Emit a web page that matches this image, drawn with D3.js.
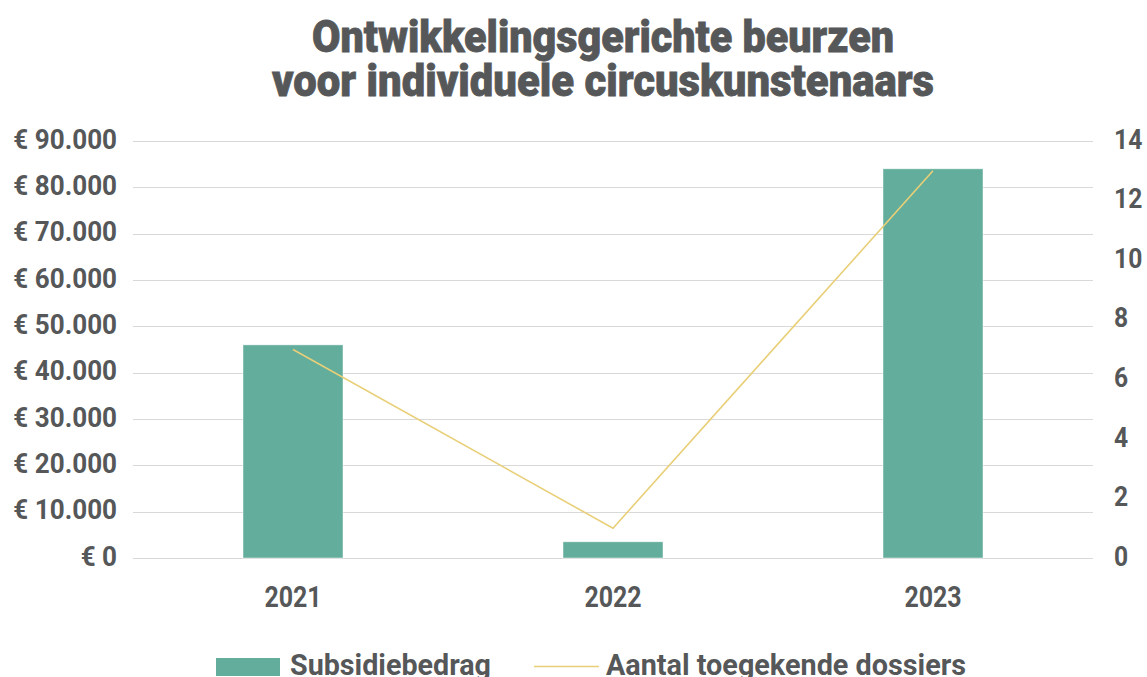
<!DOCTYPE html>
<html><head><meta charset="utf-8">
<script src="https://cdn.jsdelivr.net/npm/d3@7"></script>
<style>
body{margin:0;background:#fff;}
svg{display:block;font-family:Roboto,"Noto Sans",sans-serif;}
</style></head>
<body><svg id="c" width="1147" height="677"></svg>
<script>
const years = ["2021","2022","2023"];
const amounts = [46000, 3500, 84000];
const dossiers = [7, 1, 13];
const leftTicks = [0,10000,20000,30000,40000,50000,60000,70000,80000,90000];
const rightTicks = [0,2,4,6,8,10,12,14];
const titleLines = ["Ontwikkelingsgerichte beurzen","voor individuele circuskunstenaars"];
const legendLabels = ["Subsidiebedrag","Aantal toegekende dossiers"];

const textColor = "#555759", barColor = "#62AD9B", lineColor = "#E8CF78", gridColor = "#D9D9D9";
const svg = d3.select("#c");
const L = 133, R = 1093, T = 141, B = 558;

const x = d3.scaleBand().domain(years).range([L,R]).paddingInner(0.6875).paddingOuter(0.34375);
const yL = d3.scaleLinear().domain([0,90000]).range([B,T]);
const yR = d3.scaleLinear().domain([0,14]).range([B,T]);

function condense(sel, f){ sel.each(function(){ const w=this.getComputedTextLength(); d3.select(this).attr("textLength", w*f).attr("lengthAdjust","spacingAndGlyphs"); }); }

// title
const tw = [582, 662], tb = [52, 96];
titleLines.forEach((t,i)=>{
  svg.append("text").attr("x",603).attr("y",tb[i]).attr("text-anchor","middle")
    .attr("font-size",45).attr("font-weight",900).attr("fill",textColor)
    .attr("stroke",textColor).attr("stroke-width",0.8)
    .attr("textLength",tw[i]).attr("lengthAdjust","spacingAndGlyphs").text(t);
});

// grid
svg.append("g").selectAll("line").data(leftTicks).join("line")
  .attr("x1",L).attr("x2",R).attr("y1",d=>Math.round(yL(d))+0.5).attr("y2",d=>Math.round(yL(d))+0.5)
  .attr("stroke",gridColor).attr("stroke-width",1);

// left axis
const fmt = d => "€ " + d3.format(",")(d).replace(/,/g,".");
const lAx = d3.axisLeft(yL).tickValues(leftTicks).tickFormat(fmt).tickSize(0).tickPadding(16);
const gl = svg.append("g").attr("transform",`translate(${L},0)`).call(lAx);
gl.select(".domain").remove();
gl.selectAll("text").attr("font-size",28).attr("font-weight",700).attr("fill",textColor).attr("font-family","Roboto").attr("dy","0.26em");
condense(gl.selectAll("text"), 0.93);

// right axis
const rAx = d3.axisRight(yR).tickValues(rightTicks).tickFormat(d3.format("d")).tickSize(0).tickPadding(21);
const gr = svg.append("g").attr("transform",`translate(${R},0)`).call(rAx);
gr.select(".domain").remove();
gr.selectAll("text").attr("font-size",28).attr("font-weight",700).attr("fill",textColor).attr("font-family","Roboto").attr("dy","0.26em");
condense(gr.selectAll("text"), 0.88);

// bars
svg.append("g").selectAll("rect").data(years).join("rect")
  .attr("x",d=>x(d)).attr("width",x.bandwidth())
  .attr("y",(d,i)=>yL(amounts[i])).attr("height",(d,i)=>B-yL(amounts[i]))
  .attr("fill",barColor).attr("stroke","#fff").attr("stroke-opacity",0.6).attr("stroke-width",0.8);

// line
const line = d3.line().x((d,i)=>x(years[i])+x.bandwidth()/2).y(d=>yR(d));
svg.append("path").datum(dossiers).attr("d",line).attr("fill","none").attr("stroke",lineColor).attr("stroke-width",1.6);

// x axis labels
const xAx = d3.axisBottom(x).tickSize(0).tickPadding(0);
const gx = svg.append("g").attr("transform",`translate(0,${B})`).call(xAx);
gx.select(".domain").remove();
gx.selectAll("text").attr("font-size",29).attr("font-weight",700).attr("fill",textColor).attr("font-family","Roboto").attr("dy",null).attr("y",49);
condense(gx.selectAll("text"), 0.86);

// legend
const lg = svg.append("g");
lg.append("rect").attr("x",216).attr("y",658).attr("width",64).attr("height",18).attr("fill",barColor);
lg.append("text").attr("x",290).attr("y",675).attr("font-size",29).attr("font-weight",700).attr("fill",textColor).text(legendLabels[0])
  .attr("textLength",201).attr("lengthAdjust","spacingAndGlyphs");
lg.append("line").attr("x1",534).attr("x2",599).attr("y1",666.5).attr("y2",666.5).attr("stroke",lineColor).attr("stroke-width",1.6);
lg.append("text").attr("x",606).attr("y",675).attr("font-size",29).attr("font-weight",700).attr("fill",textColor).text(legendLabels[1])
  .attr("textLength",360).attr("lengthAdjust","spacingAndGlyphs");
</script></body></html>
